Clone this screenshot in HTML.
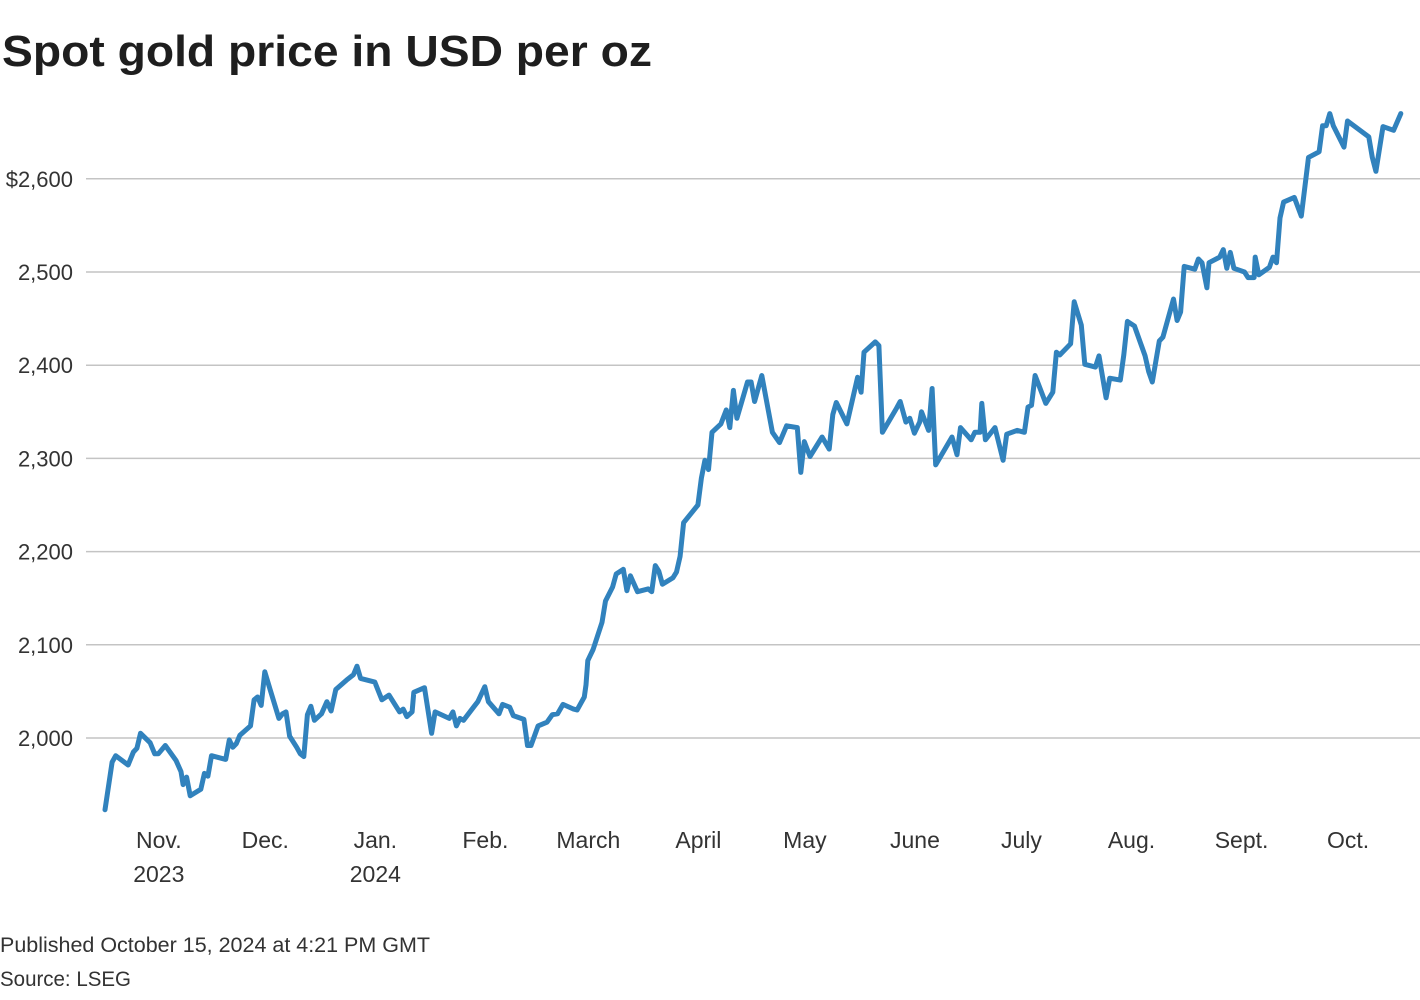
<!DOCTYPE html>
<html><head><meta charset="utf-8"><style>
html,body{margin:0;padding:0;background:#fff;}
svg{display:block;font-family:"Liberation Sans",sans-serif;}
</style></head><body>
<svg id="chart" width="1420" height="1000" viewBox="0 0 1420 1000">
<text x="2" y="66" font-size="44" font-weight="bold" fill="#1e1e1e" textLength="650" lengthAdjust="spacingAndGlyphs">Spot gold price in USD per oz</text>
<g id="grid"></g>
<g id="yticks"></g>
<g id="xticks"></g>
<path id="line" fill="none" stroke="#3182bd" stroke-width="5" stroke-linejoin="round" stroke-linecap="round"></path>
<text x="0" y="952" font-size="21" fill="#333" textLength="430" lengthAdjust="spacingAndGlyphs">Published October 15, 2024 at 4:21 PM GMT</text>
<text x="0" y="986" font-size="21" fill="#333" textLength="131" lengthAdjust="spacingAndGlyphs">Source: LSEG</text>
</svg>
<script>
const yTicks=[2000,2100,2200,2300,2400,2500,2600];
const yTickLabels=["2,000","2,100","2,200","2,300","2,400","2,500","$2,600"];
const monthDays=[16,46,77,108,137,168,198,229,259,290,321,351];
const monthLabels=["Nov.","Dec.","Jan.","Feb.","March","April","May","June","July","Aug.","Sept.","Oct."];
const yearLabels=["2023","","2024","","","","","","","","",""];
const days=[0,2,3,6.5,8,9,10,12.7,14,15,17,20,21.4,22,23,24,27,28,29,30,34,35,36,37,38,41,42,43,44,45,46.5,49,50,51,52,54,55,56,57,58,59,61,62.5,63.7,65,68,70,71,72,76,78,80,83,84,85,86.5,87,90,92,93,97,98,99,100,101,104,105,107,108,111,112,114,115,118,119,120,122,124.5,126,127.5,129,132,133,135,135.5,136,137.5,140,141,143,144,146,147,148,150,153,154,155,156,157,160,161,162,163,167,168,169,170,171,173.5,175,176,177,178,181,182,183,185,188,190,192,195,196,197,198.6,202,204,205,206,209,212,213,213.8,217,218,219,223,224,225.6,226.7,228,229.5,230,232,233,234,238.6,240,241,244,245,246.5,247,248,250.7,253,254,257,259,260,261,262,265,267,268,269,272,273,275,276,279,280,282,283,286,287,288,290,293,294,295,297,298,301,302,303,304,307,308,309,310.4,311,314,315,316,317,318,321,322,323.7,324,325,328,329,330,331,332,335,337,339,342,343,344,345,346,349,350,356,357,358,360,363,365];
const values=[1923,1974,1981,1971,1985,1989,2005,1995,1983,1983,1992,1976,1964,1950,1958,1938,1945,1962,1959,1981,1977,1998,1990,1994,2003,2013,2041,2044,2035,2071,2052,2021,2026,2028,2002,1990,1983,1980,2025,2034,2019,2026,2039,2029,2052,2062,2068,2077,2064,2060,2041,2046,2028,2031,2023,2028,2049,2054,2005,2028,2021,2028,2013,2021,2019,2034,2039,2055,2039,2026,2036,2033,2024,2020,1992,1992,2013,2017,2025,2026,2036,2031,2030,2044,2057,2083,2095,2124,2147,2162,2176,2181,2158,2174,2157,2160,2157,2185,2179,2165,2172,2178,2195,2231,2250,2279,2298,2288,2328,2337,2352,2333,2373,2343,2382,2382,2361,2389,2328,2317,2335,2333,2285,2318,2302,2323,2310,2347,2360,2337,2387,2371,2414,2425,2421,2328,2354,2361,2339,2343,2327,2339,2350,2330,2375,2293,2323,2304,2333,2320,2328,2328,2359,2320,2333,2298,2326,2330,2328,2355,2357,2389,2359,2371,2414,2411,2423,2468,2443,2401,2398,2410,2365,2386,2384,2411,2447,2442,2410,2393,2382,2426,2430,2471,2448,2457,2506,2503,2514,2510,2483,2510,2516,2524,2504,2521,2504,2500,2494,2494,2516,2497,2505,2516,2510,2558,2575,2580,2560,2623,2629,2657,2657,2670,2657,2634,2662,2645,2623,2608,2656,2652,2670];
const X=d=>105+d*3.55;
const Y=v=>738-(v-2000)*0.932;
const NS="http://www.w3.org/2000/svg";
const grid=document.getElementById('grid'),yt=document.getElementById('yticks'),xt=document.getElementById('xticks');
yTicks.forEach((t,i)=>{
  const l=document.createElementNS(NS,'line');
  
  
  l.setAttribute('x1',86);l.setAttribute('x2',1420);l.setAttribute('y1',Y(t));l.setAttribute('y2',Y(t));
  l.setAttribute('stroke','#c4c4c4');l.setAttribute('stroke-width','1.5');
  grid.appendChild(l);
  const tx=document.createElementNS(NS,'text');
  
  
  tx.setAttribute('x',73);tx.setAttribute('y',Y(t)+8);tx.setAttribute('text-anchor','end');
  tx.setAttribute('font-size','22');tx.setAttribute('fill','#333');
  tx.textContent=yTickLabels[i];
  yt.appendChild(tx);
});
monthDays.forEach((d,i)=>{
  const tx=document.createElementNS(NS,'text');
  
  
  tx.setAttribute('x',X(d)-3);tx.setAttribute('y',848);tx.setAttribute('text-anchor','middle');
  tx.setAttribute('font-size','23');tx.setAttribute('fill','#333');
  tx.textContent=monthLabels[i];
  xt.appendChild(tx);
  if(yearLabels[i]){
    const ty=document.createElementNS(NS,'text');
    
    
    ty.setAttribute('x',X(d)-3);ty.setAttribute('y',882);ty.setAttribute('text-anchor','middle');
    ty.setAttribute('font-size','23');ty.setAttribute('fill','#333');
    ty.textContent=yearLabels[i];
    xt.appendChild(ty);
  }
});
document.getElementById('line').setAttribute('d',days.map((d,i)=>(i?'L':'M')+X(d).toFixed(1)+','+Y(values[i]).toFixed(1)).join(''));
</script>
</body></html>
